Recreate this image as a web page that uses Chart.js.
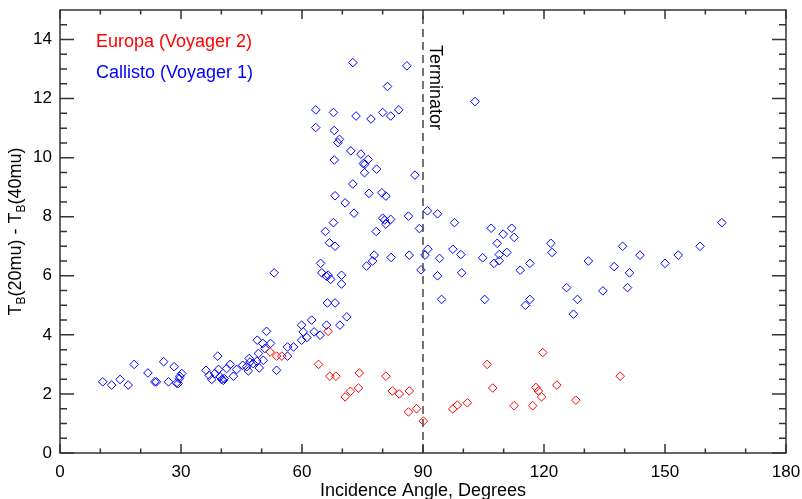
<!DOCTYPE html>
<html>
<head>
<meta charset="utf-8">
<script src="https://cdn.jsdelivr.net/npm/chart.js@4.4.1/dist/chart.umd.min.js"></script>
<style type="text/css">
    html, body { margin: 0; padding: 0; background: #fff; }
    #chartBox { width: 802px; height: 499px; }
</style>
</head>
<body>
<div id="chartBox"><canvas id="scatterChart"></canvas></div>

<script type="text/javascript">
// Europa (Voyager 2): incidence angle (deg) and TB(20mu) - TB(40mu)
const europaAngle = [52.1, 53.7, 55.0, 64.1, 66.5, 66.9, 68.4, 70.7, 72.0, 74.0, 74.2, 80.8, 82.4, 84.1, 86.6, 86.4,
    88.4, 90.1, 97.4, 98.5, 101.0, 105.9, 107.3, 112.6, 117.2, 118.0, 118.6, 119.4, 119.7, 123.2, 127.9, 138.9];
const europaDiff = [3.42, 3.28, 3.28, 3.0, 4.12, 2.6, 2.6, 1.9, 2.09, 2.2, 2.71, 2.6, 2.1, 2.0, 2.1, 1.39,
    1.5, 1.08, 1.49, 1.62, 1.7, 3.0, 2.2, 1.6, 1.6, 2.22, 2.1, 1.9, 3.4, 2.3, 1.79, 2.6];

// Callisto (Voyager 1)
const callistoAngle = [10.6, 12.8, 14.9, 16.9, 18.4, 21.8, 23.5, 23.9, 25.7, 26.9, 28.3, 28.9, 29.3, 29.6, 29.7, 30.2,
    36.2, 37.0, 37.6, 38.4, 39.1, 39.3, 39.7, 40.1, 40.5, 40.7, 41.3, 42.2, 43.0, 43.8, 45.3, 46.3, 46.7, 46.9, 47.1,
    47.9, 48.8, 48.9, 49.2, 49.4, 50.3, 50.4, 50.8, 51.2, 52.2, 53.1, 53.7, 56.4, 56.4, 57.9, 59.9, 59.9, 60.3, 61.2,
    62.4, 63.0, 64.5, 64.6, 64.9, 66.0, 66.5, 67.1, 66.3, 68.2, 66.1, 69.4, 71.1, 69.8, 69.8,
    76.0, 77.5, 77.9, 82.1, 70.7, 72.9, 67.8, 65.8, 66.8, 68.2, 78.4, 80.0, 80.5, 80.8, 82.0, 86.4, 89.1, 91.1, 93.6,
    86.6, 90.5, 91.2, 89.5, 94.1, 93.6, 94.6,
    72.6, 86.0, 81.2, 63.4, 67.8, 73.4, 77.1, 80.0, 82.0, 84.0, 63.4, 68.0, 69.3, 68.9, 72.1, 74.6, 76.4, 75.2, 75.6,
    75.5, 78.5, 68.0, 88.0, 72.6, 76.6, 79.8, 80.8, 68.2, 102.9,
    97.8, 106.9, 112.0, 109.9, 112.6, 108.4, 110.8, 108.9, 107.6, 108.9, 97.4, 99.4, 104.8, 99.6, 114.1, 116.5, 121.7,
    122.0, 131.0, 137.4, 105.3, 116.5, 115.4, 125.6, 128.3, 127.3, 134.6, 139.5, 143.8, 141.2, 140.7, 150.0, 153.3,
    158.7, 164.1];
const callistoDiff = [2.41, 2.3, 2.49, 2.3, 3.0, 2.71, 2.41, 2.41, 3.09, 2.41, 2.92, 2.37, 2.35, 2.52, 2.6, 2.69,
    2.8, 2.63, 2.49, 2.69, 3.28, 2.83, 2.58, 2.49, 2.46, 2.52, 2.86, 3.0, 2.6, 2.83, 2.97, 2.92, 2.78, 3.2, 3.08,
    3.03, 3.11, 3.82, 3.37, 2.88, 3.71, 3.14, 3.54, 4.12, 3.71, 6.1, 2.8, 3.59, 3.28, 3.59, 4.33, 3.82, 4.1, 3.91,
    4.5, 4.1, 3.99, 6.42, 6.1, 5.99, 6.02, 5.88, 5.08, 5.08, 4.33, 4.33, 4.61, 6.02, 5.72,
    6.33, 6.5, 6.7, 6.62, 8.47, 8.12, 7.8, 7.5, 7.12, 7.0, 7.5, 7.95, 7.89, 7.75, 7.91, 8.02, 7.6, 8.2, 8.1,
    6.7, 6.7, 6.9, 6.2, 6.59, 6.0, 5.2,
    13.22, 13.11, 12.41, 11.62, 11.53, 11.41, 11.31, 11.53, 11.41, 11.62, 11.02, 10.92, 10.62, 10.51, 10.23, 10.12, 9.94, 9.8, 9.78,
    9.49, 9.61, 9.92, 9.41, 9.11, 8.79, 8.81, 8.7, 8.71, 11.9,
    7.8, 7.61, 7.61, 7.41, 7.3, 7.1, 6.79, 6.72, 6.42, 6.51, 6.9, 6.72, 6.61, 6.1, 6.19, 6.42, 7.1,
    6.79, 6.5, 6.31, 5.2, 5.2, 5.0, 5.6, 5.2, 4.7, 5.49, 7.0, 6.7, 6.1, 5.6, 6.42, 6.7,
    7.0, 7.8];

const terminatorAngle = 90;

const xTicks = [0, 30, 60, 90, 120, 150, 180];
const yTicks = [0, 2, 4, 6, 8, 10, 12, 14];

const tickFont = { family: '"Liberation Sans", Arial, Helvetica, sans-serif', size: 17 };
const textFamily = '"Liberation Sans", Arial, Helvetica, sans-serif';

function toPoints(xs, ys) {
    return xs.map((x, i) => ({ x: x, y: ys[i] }));
}

// box frame, inward ticks on all four sides, labels and axis titles
const framePlugin = {
    id: 'frame',
    afterDraw(chart) {
        const ctx = chart.ctx;
        const area = chart.chartArea;
        const xs = chart.scales.x;
        const ys = chart.scales.y;

        ctx.save();
        ctx.strokeStyle = '#333';
        ctx.lineWidth = 1.5;
        ctx.strokeRect(area.left, area.top, area.right - area.left, area.bottom - area.top);

        ctx.beginPath();
        for (let v = 0; v <= 180; v += 10) {
            const px = xs.getPixelForValue(v);
            const len = v % 30 === 0 ? 9 : 4.5;
            ctx.moveTo(px, area.bottom); ctx.lineTo(px, area.bottom - len);
            ctx.moveTo(px, area.top); ctx.lineTo(px, area.top + len);
        }
        for (let v = 0; v < 15; v += 0.5) {
            const py = ys.getPixelForValue(v);
            const len = v % 2 === 0 ? 14 : 7;
            ctx.moveTo(area.left, py); ctx.lineTo(area.left + len, py);
            ctx.moveTo(area.right, py); ctx.lineTo(area.right - len, py);
        }
        ctx.stroke();

        // legend text
        ctx.font = '18px ' + textFamily;
        ctx.textAlign = 'left';
        ctx.textBaseline = 'alphabetic';
        ctx.fillStyle = '#ff0000';
        ctx.fillText('Europa (Voyager 2)', 96, 47);
        ctx.fillStyle = '#0000ff';
        ctx.fillText('Callisto (Voyager 1)', 96, 78);

        // terminator label
        ctx.save();
        ctx.fillStyle = '#000';
        ctx.translate(xs.getPixelForValue(terminatorAngle) + 7, 45);
        ctx.rotate(Math.PI / 2);
        ctx.font = '18px ' + textFamily;
        ctx.textBaseline = 'alphabetic';
        ctx.fillText('Terminator', 0, 0);
        ctx.restore();

        // x title
        ctx.fillStyle = '#000';
        ctx.font = '18px ' + textFamily;
        ctx.textAlign = 'center';
        ctx.fillText('Incidence Angle, Degrees', (area.left + area.right) / 2, 496);

        // y title with subscripts
        const parts = [['T', false], ['B', true], ['(20mu) - T', false], ['B', true], ['(40mu)', false]];
        const big = '18px ' + textFamily;
        const small = '12px ' + textFamily;
        let total = 0;
        for (const p of parts) {
            ctx.font = p[1] ? small : big;
            total += ctx.measureText(p[0]).width;
        }
        ctx.save();
        ctx.translate(21, (area.top + area.bottom) / 2);
        ctx.rotate(-Math.PI / 2);
        ctx.textAlign = 'left';
        let cx = -total / 2;
        for (const p of parts) {
            ctx.font = p[1] ? small : big;
            ctx.fillText(p[0], cx, p[1] ? 4 : 0);
            cx += ctx.measureText(p[0]).width;
        }
        ctx.restore();

        ctx.restore();
    }
};

const chart = new Chart(document.getElementById('scatterChart'), {
    type: 'scatter',
    data: {
        datasets: [{
            label: 'Terminator',
            data: [{ x: terminatorAngle, y: 0 }, { x: terminatorAngle, y: 15 }],
            showLine: true,
            borderColor: '#444',
            borderWidth: 1.5,
            borderDash: [8, 5],
            pointRadius: 0
        }, {
            label: 'Europa (Voyager 2)',
            data: toPoints(europaAngle, europaDiff),
            pointStyle: 'rectRot',
            pointRadius: 4.3,
            borderColor: '#ff0000',
            backgroundColor: 'rgba(0,0,0,0)',
            borderWidth: 1
        }, {
            label: 'Callisto (Voyager 1)',
            data: toPoints(callistoAngle, callistoDiff),
            pointStyle: 'rectRot',
            pointRadius: 4.3,
            borderColor: '#0000ff',
            backgroundColor: 'rgba(0,0,0,0)',
            borderWidth: 1
        }]
    },
    options: {
        responsive: true,
        maintainAspectRatio: false,
        animation: false,
        devicePixelRatio: 1,
        layout: { padding: { top: 10, right: 16, left: 0, bottom: 0 } },
        plugins: {
            legend: { display: false },
            tooltip: { enabled: false }
        },
        scales: {
            x: {
                type: 'linear',
                min: 0,
                max: 180,
                grid: { display: false, drawTicks: false },
                border: { display: false },
                ticks: { font: tickFont, color: '#000', padding: 9, maxRotation: 0 },
                afterBuildTicks: s => { s.ticks = xTicks.map(v => ({ value: v })); },
                afterFit: s => { s.height = 46; s.paddingLeft = 0; s.paddingRight = 0; }
            },
            y: {
                type: 'linear',
                min: 0,
                max: 15,
                grid: { display: false, drawTicks: false },
                border: { display: false },
                ticks: { font: tickFont, color: '#000', padding: 8 },
                afterBuildTicks: s => { s.ticks = yTicks.map(v => ({ value: v })); },
                afterFit: s => { s.width = 60; s.paddingTop = 0; s.paddingBottom = 0; }
            }
        }
    },
    plugins: [framePlugin]
});
</script>
</body>
</html>
